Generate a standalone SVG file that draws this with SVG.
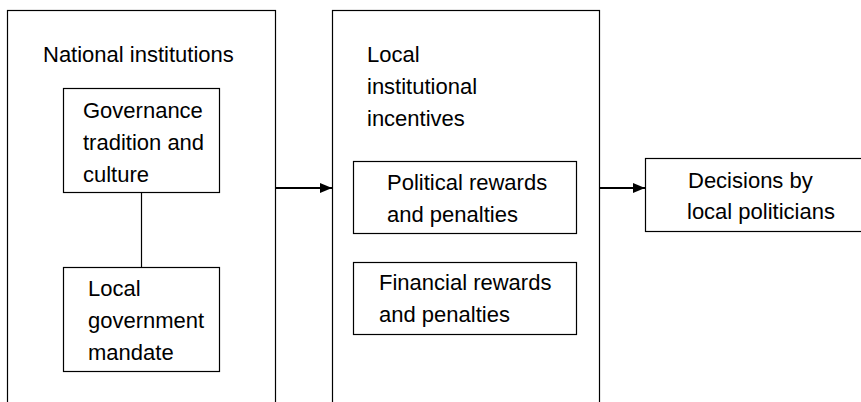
<svg xmlns="http://www.w3.org/2000/svg" width="861" height="402" viewBox="0 0 861 402">
  <style>
    .box { fill: #ffffff; stroke: #000000; stroke-width: 1.2; }
    .lbl { font-family: "Liberation Sans", Arial, sans-serif; font-size: 22px; fill: #000000; }
    .link { stroke: #000000; stroke-width: 1.2; fill: none; }
    .arrow { stroke: #000000; stroke-width: 2; fill: none; marker-end: url(#head); }
  </style>
  <defs>
    <marker id="head" viewBox="0 0 12 10" refX="12" refY="5" markerWidth="12" markerHeight="10" markerUnits="userSpaceOnUse" orient="auto">
      <path d="M0,0 L12,5 L0,10 Z" fill="#000000"/>
    </marker>
  </defs>
  <rect width="861" height="402" fill="#ffffff"/>

  <!-- National institutions (open at the bottom edge) -->
  <g id="national">
    <rect class="box" x="7.5" y="10.5" width="268" height="400"/>
    <text class="lbl" x="43" y="62">National institutions</text>
  </g>

  <g id="governance">
    <rect class="box" x="63.5" y="88.5" width="156" height="104"/>
    <text class="lbl" x="83" y="118">Governance</text>
    <text class="lbl" x="83" y="150">tradition and</text>
    <text class="lbl" x="83" y="182">culture</text>
  </g>

  <g id="mandate">
    <rect class="box" x="63.5" y="267.5" width="156" height="104"/>
    <text class="lbl" x="88" y="296">Local</text>
    <text class="lbl" x="88" y="328">government</text>
    <text class="lbl" x="88" y="360">mandate</text>
  </g>

  <!-- Local institutional incentives (open at the bottom edge) -->
  <g id="incentives">
    <rect class="box" x="332.5" y="10.5" width="267" height="400"/>
    <text class="lbl" x="367" y="62">Local</text>
    <text class="lbl" x="367" y="94">institutional</text>
    <text class="lbl" x="367" y="126">incentives</text>
  </g>

  <g id="political">
    <rect class="box" x="353.5" y="161.5" width="223" height="72"/>
    <text class="lbl" x="387" y="190">Political rewards</text>
    <text class="lbl" x="387" y="222">and penalties</text>
  </g>

  <g id="financial">
    <rect class="box" x="353.5" y="262.5" width="223" height="72"/>
    <text class="lbl" x="379" y="290">Financial rewards</text>
    <text class="lbl" x="379" y="322">and penalties</text>
  </g>

  <g id="decisions">
    <rect class="box" x="645.5" y="158.5" width="230" height="73"/>
    <text class="lbl" x="688" y="188">Decisions by</text>
    <text class="lbl" x="687" y="219">local politicians</text>
  </g>

  <g id="connectors">
    <line class="link" x1="141.5" y1="193" x2="141.5" y2="267"/>
    <line class="arrow" x1="276" y1="188" x2="332" y2="188"/>
    <line class="arrow" x1="600" y1="188" x2="645" y2="188"/>
  </g>
</svg>
